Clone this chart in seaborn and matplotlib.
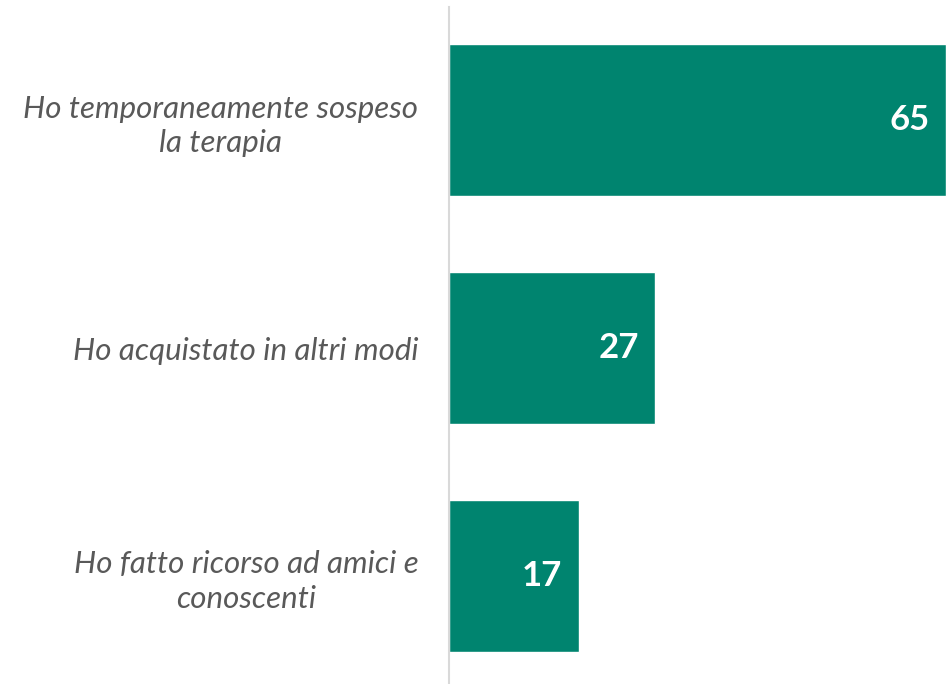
import pandas as pd
import seaborn as sns
from matplotlib import pyplot as plt

# data
categories = [
    "Ho temporaneamente sospeso\nla terapia",
    "Ho acquistato in altri modi",
    "Ho fatto ricorso ad amici e\nconoscenti",
]
values = [65, 27, 17]

bar_color = "#00846F"
text_grey = "#595959"

df = pd.DataFrame({"category": categories, "value": values})

sns.set_style("white")
plt.rcParams["font.family"] = ["Lato", "DejaVu Sans"]

fig = plt.figure(figsize=(9.49, 6.84), dpi=100)
ax = fig.add_axes([449 / 949, 0, 500 / 949, 677 / 684])

sns.barplot(data=df, x="value", y="category", orient="h", color=bar_color,
            width=0.667, saturation=1, ax=ax)

ax.set_xlim(0, 65 * 500 / 497)
ax.set_ylim(2.474, -0.496)

# value labels inside the bar ends
for i, v in enumerate(values):
    ax.annotate(f"{v}", xy=(v, i), xytext=(-12, 0), textcoords="offset points",
                ha="right", va="center", color="white", fontsize=25,
                fontweight="bold")

ax.set_xlabel("")
ax.set_ylabel("")
ax.set_xticks([])
ax.tick_params(axis="y", length=0, pad=22)
for lbl in ax.get_yticklabels():
    lbl.set_fontsize(22.5)
    lbl.set_fontstyle("italic")
    lbl.set_color(text_grey)
    lbl.set_multialignment("center")
    lbl.set_linespacing(1.3)

for side in ["top", "right", "bottom"]:
    ax.spines[side].set_visible(False)
ax.spines["left"].set_color("#D9D9D9")
ax.spines["left"].set_linewidth(1.5)

fig.savefig("out.png", dpi=100)
